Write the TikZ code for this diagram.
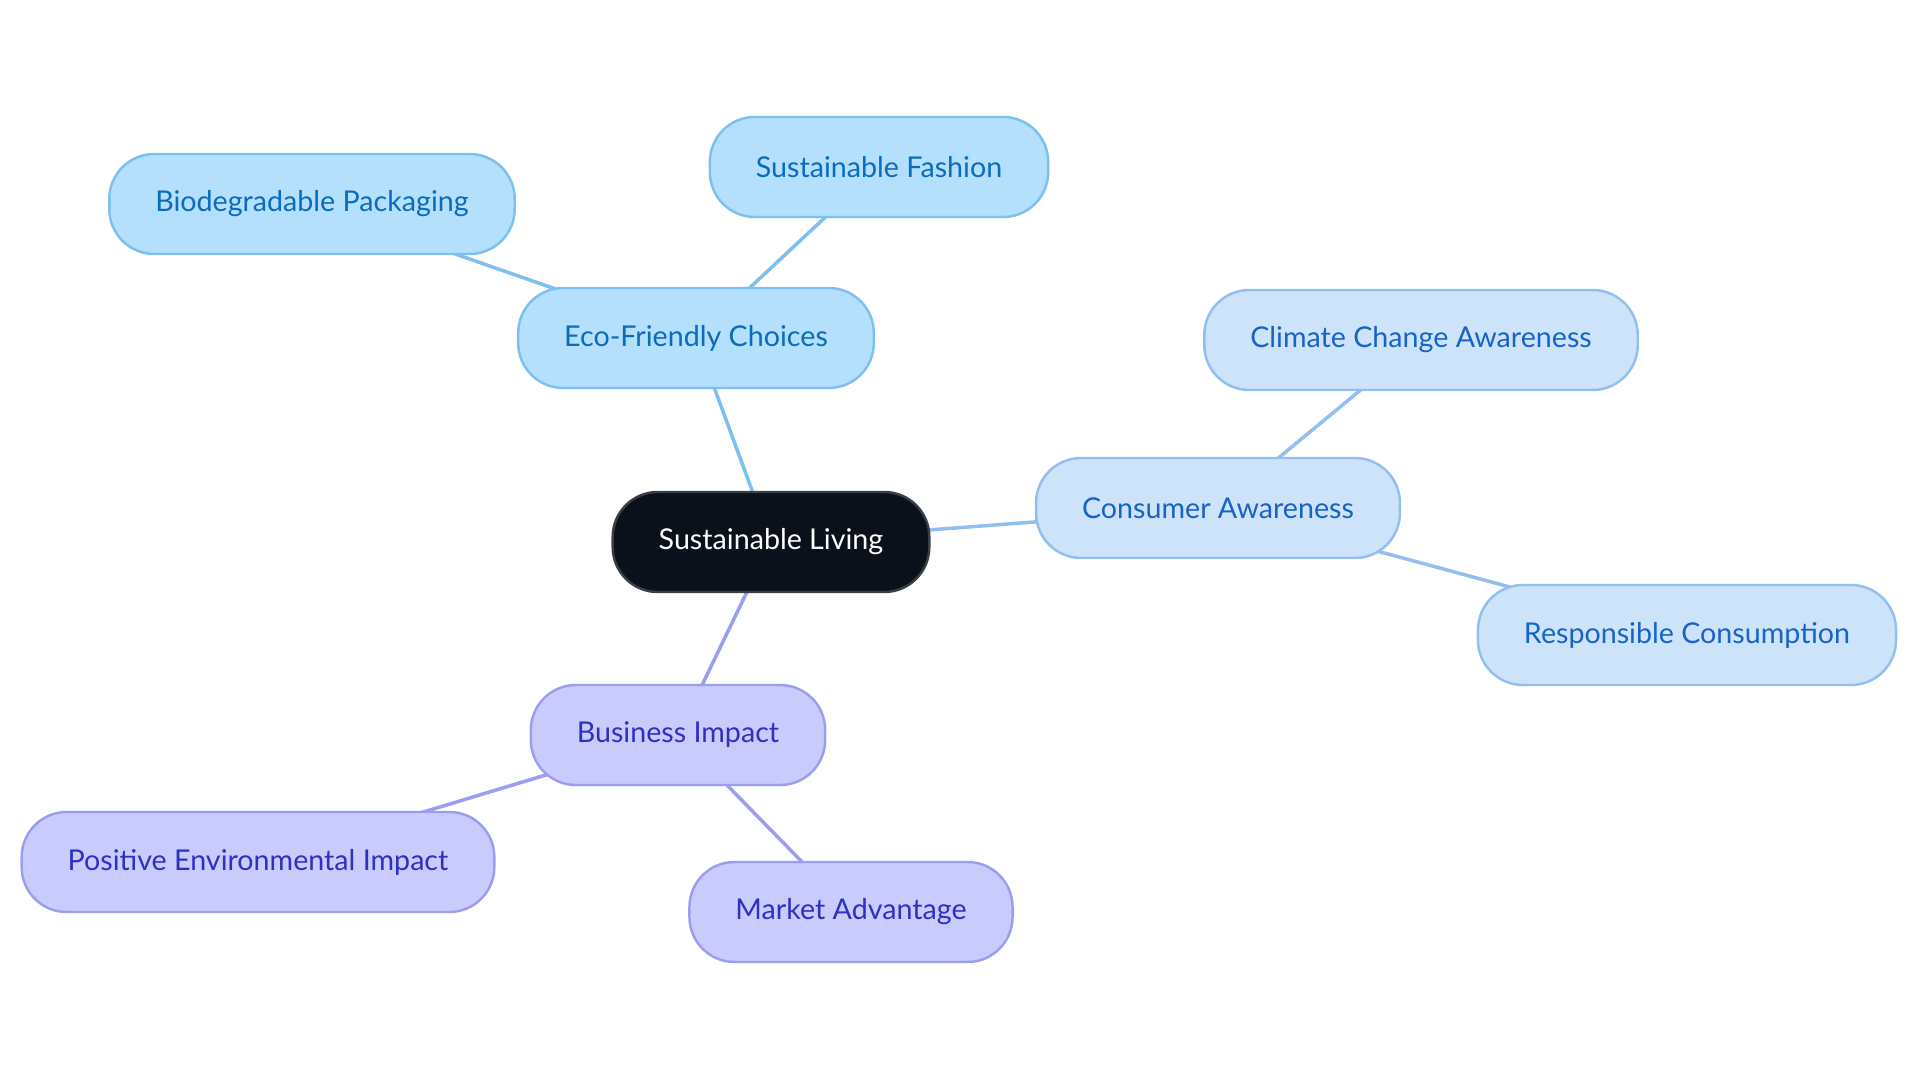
\documentclass[tikz,border=0pt]{standalone}
\usepackage{fontspec}
\setmainfont{Lato}
\usetikzlibrary{backgrounds}

\definecolor{rootfill}{HTML}{0B111A}
\definecolor{rootline}{HTML}{3A3F46}
\definecolor{ecofill}{HTML}{B4DFFD}
\definecolor{ecoline}{HTML}{7DC0F0}
\definecolor{ecotext}{HTML}{0A6CBF}
\definecolor{conffill}{HTML}{CDE3FA}
\definecolor{confline}{HTML}{92BFEE}
\definecolor{context}{HTML}{1764C8}
\definecolor{busfill}{HTML}{C9CBFD}
\definecolor{busline}{HTML}{9B9EF0}
\definecolor{bustext}{HTML}{2E30C6}

\begin{document}
\begin{tikzpicture}[
  every node/.style={rounded corners=0.45cm, minimum height=1cm, inner xsep=0.46cm,
    font=\fontsize{8.15}{10}\selectfont, line width=0.7pt},
  rootnode/.style={fill=rootfill, draw=rootline, text=white},
  econode/.style={fill=ecofill, draw=ecoline, text=ecotext},
  connode/.style={fill=conffill, draw=confline, text=context},
  busnode/.style={fill=busfill, draw=busline, text=bustext},
  link/.style={line width=1pt}
]

  \useasboundingbox (0,0) rectangle (19.2,-10.83);

  % centre
  \node[rootnode] (living) at (7.71,-5.42) {Sustainable Living};

  % Eco-Friendly Choices
  \node[econode] (eco) at (6.96,-3.38) {Eco-Friendly Choices};
  \node[econode] (fashion) at (8.79,-1.67) {Sustainable Fashion};
  \node[econode] (packaging) at (3.12,-2.04) {Biodegradable Packaging};

  % Consumer Awareness
  \node[connode] (consumer) at (12.18,-5.08) {Consumer Awareness};
  \node[connode] (climate) at (14.21,-3.40) {Climate Change Awareness};
  \node[connode] (responsible) at (16.87,-6.35) {Responsible Consumption};

  % Business Impact
  \node[busnode] (business) at (6.78,-7.35) {Business Impact};
  \node[busnode] (positive) at (2.58,-8.62) {Positive Environmental Impact};
  \node[busnode] (market) at (8.51,-9.12) {Market Advantage};

  % links, centre to centre, behind the boxes
  \begin{pgfonlayer}{background}
    \draw[link, ecoline] (living.center) -- (eco.center);
    \foreach \n in {fashion,packaging} {
      \draw[link, ecoline] (eco.center) -- (\n.center);
    }
    \draw[link, confline] (living.center) -- (consumer.center);
    \foreach \n in {climate,responsible} {
      \draw[link, confline] (consumer.center) -- (\n.center);
    }
    \draw[link, busline] (living.center) -- (business.center);
    \foreach \n in {positive,market} {
      \draw[link, busline] (business.center) -- (\n.center);
    }
  \end{pgfonlayer}

\end{tikzpicture}
\end{document}
